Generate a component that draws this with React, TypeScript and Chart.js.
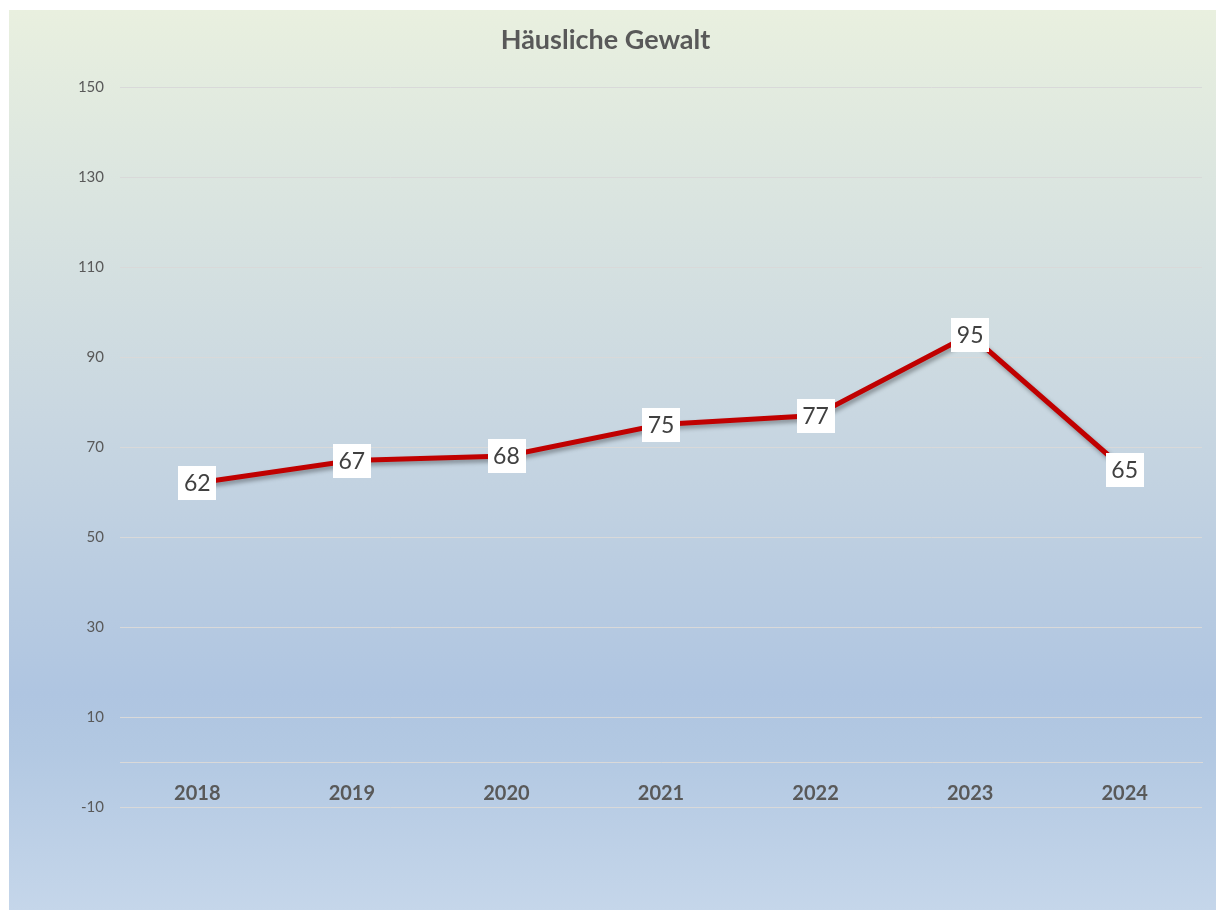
import React, { useEffect, useRef } from "react";
import { Chart, registerables } from "chart.js";

Chart.register(...registerables);

const TITLE = "Häusliche Gewalt";
const YEARS = ["2018", "2019", "2020", "2021", "2022", "2023", "2024"];
const VALUES = [62, 67, 68, 75, 77, 95, 65];
const Y_MIN = -10;
const Y_MAX = 150;
const Y_STEP = 20;

const FONT = "Lato, 'Open Sans', sans-serif";
const TEXT = "#595959";
const GRID = "#D9D9D9";

const lineShadow = {
  id: "lineShadow",
  beforeDatasetDraw(chart: any) {
    const ctx = chart.ctx;
    ctx.save();
    ctx.shadowColor = "rgba(0,0,0,0.35)";
    ctx.shadowBlur = 4;
    ctx.shadowOffsetX = 2;
    ctx.shadowOffsetY = 3;
  },
  afterDatasetDraw(chart: any) {
    chart.ctx.restore();
  },
};

const dataLabels = {
  id: "dataLabels",
  afterDatasetsDraw(chart: any) {
    const ctx = chart.ctx;
    const meta = chart.getDatasetMeta(0);
    const data = chart.data.datasets[0].data as number[];
    ctx.save();
    ctx.font = `23px ${FONT}`;
    ctx.textAlign = "center";
    ctx.textBaseline = "middle";
    meta.data.forEach((pt: any, i: number) => {
      const txt = String(data[i]);
      const w = ctx.measureText(txt).width + 11;
      const h = 34;
      ctx.fillStyle = "#FFFFFF";
      ctx.fillRect(Math.round(pt.x - w / 2), Math.round(pt.y - h / 2), Math.round(w), h);
      ctx.fillStyle = "#404040";
      ctx.fillText(txt, pt.x, pt.y + 1);
    });
    ctx.restore();
  },
};

export default function App() {
  const ref = useRef<HTMLCanvasElement | null>(null);

  useEffect(() => {
    if (!ref.current) return;
    const chart = new Chart(ref.current, {
      type: "line",
      data: {
        labels: YEARS,
        datasets: [
          {
            data: VALUES,
            borderColor: "#C00000",
            borderWidth: 5,
            pointRadius: 0,
            tension: 0,
            fill: false,
          },
        ],
      },
      options: {
        animation: false,
        responsive: false,
        devicePixelRatio: 1,
        layout: { padding: { left: 0, right: 14, top: 0, bottom: 103 } },
        plugins: {
          legend: { display: false },
          tooltip: { enabled: false },
          title: {
            display: true,
            text: TITLE,
            color: TEXT,
            font: { family: FONT, size: 27, weight: "bold", lineHeight: 1.2 },
            padding: { top: 13.8, bottom: 30.8 },
          },
        },
        scales: {
          x: {
            position: { y: 0 } as any,
            offset: true,
            grid: { display: true, color: "transparent", drawTicks: false },
            border: { display: true, color: GRID, width: 1 },
            ticks: {
              color: TEXT,
              padding: 20,
              font: { family: FONT, size: 20, weight: "bold" },
              maxRotation: 0,
            },
          },
          y: {
            min: Y_MIN,
            max: Y_MAX,
            afterFit(scale: any) {
              scale.width = 111;
            },
            grid: { color: GRID, lineWidth: 1, drawTicks: false },
            border: { display: false },
            ticks: {
              stepSize: Y_STEP,
              color: TEXT,
              padding: 16,
              font: { family: FONT, size: 15 },
            },
          },
        },
      },
      plugins: [lineShadow, dataLabels],
    });
    return () => chart.destroy();
  }, []);

  return (
    <div
      style={{
        position: "fixed",
        left: 9,
        top: 10,
        width: 1207,
        height: 900,
        background:
          "linear-gradient(to bottom, #E9F0DF 0%, #C9D7E1 45%, #AFC5E1 76%, #B2C8E2 82%, #C5D6EA 100%)",
      }}
    >
      <canvas ref={ref} width={1207} height={900} style={{ display: "block" }} />
    </div>
  );
}
